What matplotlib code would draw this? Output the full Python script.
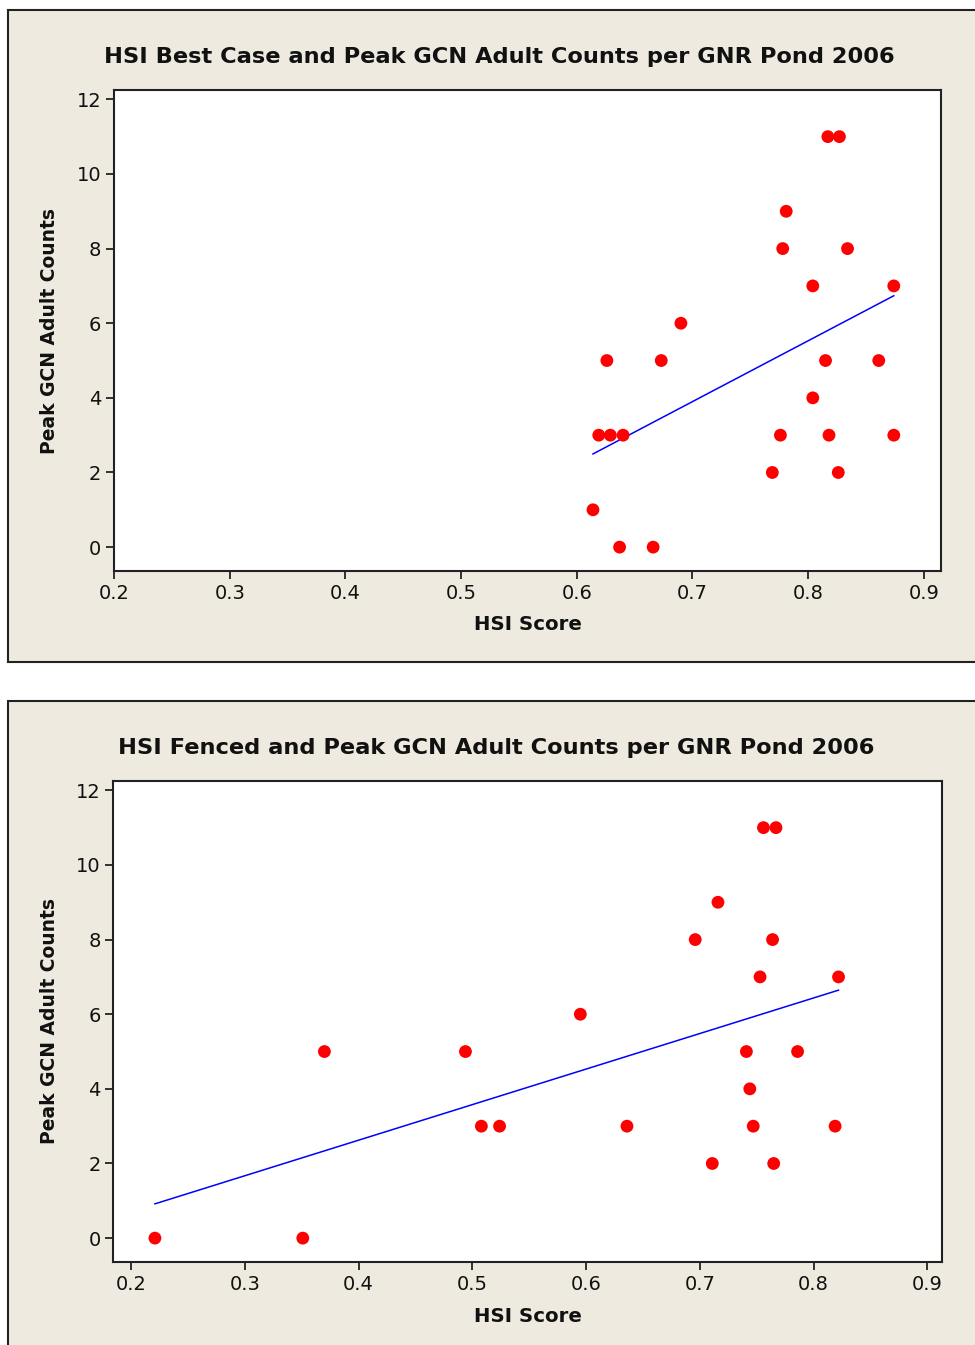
import numpy as np
import matplotlib
matplotlib.use("Agg")
import matplotlib.pyplot as plt
from matplotlib.patches import Rectangle

plt.rcParams['font.family'] = ['DejaVu Sans']

# HSI best case scores vs peak adult counts
best_hsi = [0.817, 0.827, 0.781, 0.778, 0.834, 0.804, 0.874, 0.690,
            0.626, 0.673, 0.815, 0.861, 0.804, 0.619, 0.629, 0.640,
            0.776, 0.818, 0.874, 0.769, 0.826, 0.614, 0.637, 0.666]
best_counts = [11, 11, 9, 8, 8, 7, 7, 6,
               5, 5, 5, 5, 4, 3, 3, 3,
               3, 3, 3, 2, 2, 1, 0, 0]

# HSI fenced scores vs peak adult counts
fenced_hsi = [0.221, 0.351, 0.370, 0.494, 0.508, 0.524, 0.756, 0.767,
              0.716, 0.696, 0.764, 0.753, 0.822, 0.595, 0.741, 0.786,
              0.744, 0.636, 0.747, 0.819, 0.711, 0.765]
fenced_counts = [0, 0, 5, 5, 3, 3, 11, 11,
                 9, 8, 8, 7, 7, 6, 5, 5,
                 4, 3, 3, 3, 2, 2]

titles = ["HSI Best Case and Peak GCN Adult Counts per GNR Pond 2006",
          "HSI Fenced and Peak GCN Adult Counts per GNR Pond 2006"]
xticks = [0.2, 0.3, 0.4, 0.5, 0.6, 0.7, 0.8, 0.9]
yticks = [0, 2, 4, 6, 8, 10, 12]

W, H = 975, 1345
fig = plt.figure(figsize=(W / 100, H / 100), dpi=100)
fig.patch.set_facecolor('white')

bg = '#eeeae0'
# panel backgrounds (pixel coords -> figure fraction)
for top, bot in [(10, 662), (701, 1360)]:
    fig.patches.append(Rectangle((8 / W, 1 - bot / H), 1.2, (bot - top) / H,
                                 transform=fig.transFigure, facecolor=bg,
                                 edgecolor='#222222', linewidth=1.5, zorder=-5))

panels = [
    dict(x=best_hsi, y=best_counts, rect=(114, 90, 941, 571),
         xlim=(0.2, 0.9148), title_xy=(499.5, 57), xlab_y=624, ylab_x=50),
    dict(x=fenced_hsi, y=fenced_counts, rect=(113.3, 781, 941.7, 1262),
         xlim=(0.1844, 0.9127), title_xy=(496, 748), xlab_y=1316, ylab_x=50),
]

for p, title in zip(panels, titles):
    l, t, r, b = p['rect']
    ax = fig.add_axes([l / W, 1 - b / H, (r - l) / W, (b - t) / H])
    ax.set_zorder(2)
    ax.set_facecolor('white')
    x = np.array(p['x'])
    y = np.array(p['y'])
    ax.scatter(x, y, s=85, color='#ff0000', edgecolors='none', zorder=3)
    k, c = np.polyfit(x, y, 1)
    xs = np.array([x.min(), x.max()])
    ax.plot(xs, k * xs + c, color='#0000ff', linewidth=1.1, zorder=2)

    ax.set_xlim(*p['xlim'])
    ax.set_ylim(-0.64, 12.25)
    ax.set_xticks(xticks)
    ax.set_xticklabels([str(v) for v in xticks])
    ax.set_yticks(yticks)
    ax.tick_params(direction='out', length=6, width=1.2, labelsize=14,
                   colors='#111111', pad=3)
    for s in ax.spines.values():
        s.set_linewidth(1.5)
        s.set_color('#222222')

    tx, ty = p['title_xy']
    fig.text(tx / W, 1 - ty / H, title, ha='center', va='center',
             fontsize=16.2, fontweight='bold', color='#111111')
    fig.text((l + r) / 2 / W, 1 - p['xlab_y'] / H, "HSI Score", ha='center',
             va='center', fontsize=14.2, fontweight='bold', color='#111111')
    fig.text(p['ylab_x'] / W, 1 - (t + b) / 2 / H, "Peak GCN Adult Counts",
             ha='center', va='center', rotation=90, fontsize=13.5,
             fontweight='bold', color='#111111')

fig.savefig('out.png', dpi=100)
